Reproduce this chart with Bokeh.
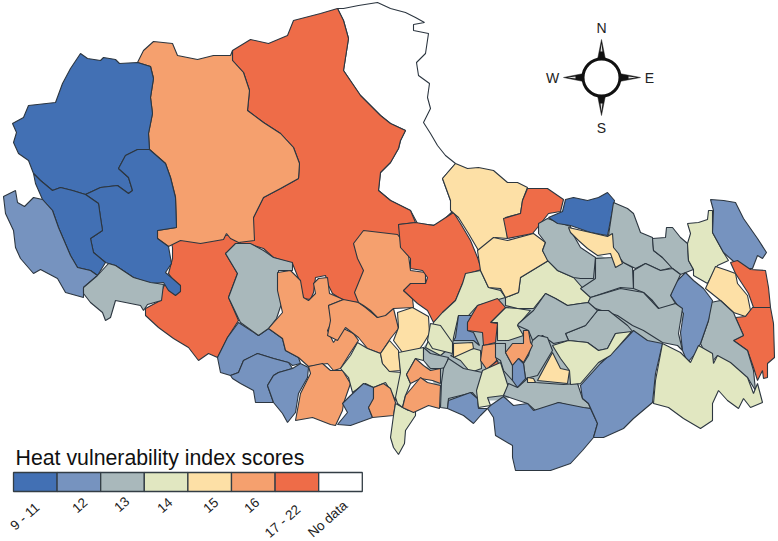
from bokeh.plotting import figure
from bokeh.models import Range1d
from bokeh.core.properties import value
from bokeh.embed import file_html
from bokeh.resources import INLINE

legend_labels = ["9 - 11", "12", "13", "14", "15", "16", "17 - 22", "No data"]
class_colors = ["#4270b4", "#7693bf", "#a9b8bb", "#e1e7c1", "#fde0a6", "#f5a06e", "#ee6c48", "#ffffff"]
NO, C1, C2, C3, C4, C5, C6, C7 = 7, 0, 1, 2, 3, 4, 5, 6

r_nodata = [(337,8),(343,8),(358,5),(377,2),(390,8),(405,12),(415,17),(424,22),(413,24),(413,30),(428,33),(425,53),(416,62),(418,75),(429,83),(427,97),(430,108),(423,122),(430,133),(437,145),(445,155),(455,163),(442,178),(450,200),(452,211),(437,225),(417,223),(410,210),(390,200),(378,190),(380,172),(390,162),(398,148),(400,140),(405,130),(390,123),(380,115),(360,95),(343,70),(348,38),(343,20)]
r_north_red = [(232,50),(250,39),(268,43),(287,35),(293,20),(320,13),(337,8),(343,20),(348,38),(343,70),(360,95),(380,115),(390,123),(405,130),(400,140),(398,148),(390,162),(380,172),(378,190),(390,200),(410,210),(415,222),(398,224),(405,260),(400,290),(358,302),(343,300),(332,293),(328,285),(325,275),(315,277),(313,292),(310,299),(303,298),(298,278),(292,263),(273,257),(263,248),(250,244),(238,243),(253,217),(263,197),(280,188),(298,178),(299,163),(293,147),(280,133),(263,122),(247,110),(249,90),(243,72),(232,60)]
r_north_orange = [(137,62),(143,50),(153,41),(172,43),(177,55),(197,59),(213,55),(230,55),(232,50),(232,60),(243,72),(249,90),(247,110),(263,122),(280,133),(293,147),(299,163),(298,178),(280,188),(263,197),(253,217),(254,240),(238,242),(230,238),(226,233),(223,239),(200,243),(180,240),(168,246),(157,238),(157,230),(176,227),(175,197),(170,177),(165,163),(149,149),(148,133),(152,113),(150,97),(153,78),(150,66)]
r_nw_blue = [(80,53),(87,58),(100,60),(103,57),(115,59),(119,63),(137,62),(150,66),(153,78),(150,97),(152,113),(148,133),(149,149),(137,149),(125,155),(118,168),(128,177),(132,190),(128,193),(117,185),(100,187),(85,194),(72,190),(60,187),(52,190),(40,180),(33,173),(28,160),(18,153),(13,142),(16,132),(12,123),(23,117),(28,105),(55,102),(62,83),(70,68)]
r_sw_red = [(170,238),(240,234),(240,243),(225,253),(237,273),(228,297),(238,320),(227,337),(217,357),(208,353),(198,360),(188,347),(173,338),(158,327),(145,315),(145,308),(160,300),(160,292),(165,283),(173,293),(180,290),(168,273),(172,258),(172,247)]
r_w_blue_east = [(149,149),(165,163),(170,177),(175,197),(176,227),(157,230),(157,238),(168,246),(171,263),(165,272),(172,278),(180,285),(180,291),(175,295),(168,290),(163,282),(150,283),(133,277),(115,265),(108,263),(105,262),(93,252),(90,238),(102,230),(100,217),(98,203),(85,194),(100,187),(117,185),(128,193),(132,190),(128,177),(118,168),(125,155),(137,149)]
r_w_blue_strip = [(33,173),(40,180),(52,190),(60,187),(72,190),(85,194),(98,203),(100,217),(102,230),(90,238),(93,252),(105,262),(97,275),(90,270),(77,267),(70,255),(58,227),(52,210),(42,199),(35,183)]
r_w_steel = [(15,190),(3,196),(5,213),(13,230),(15,247),(20,258),(33,273),(40,269),(57,278),(65,292),(83,297),(83,287),(97,275),(90,270),(77,267),(70,255),(58,227),(52,210),(42,199),(33,197),(24,206),(17,202)]
r_w_grey = [(83,293),(83,287),(97,275),(108,263),(115,265),(133,277),(150,282),(157,283),(163,284),(161,300),(147,304),(143,310),(140,305),(115,300),(110,317),(105,320),(102,312),(90,302)]
r_c_grey = [(225,253),(235,243),(250,243),(263,250),(273,257),(292,262),(292,270),(278,270),(278,287),(281,303),(276,318),(268,328),(258,335),(240,322),(238,318),(228,297),(237,273)]
r_c_orange_a = [(277,272),(290,270),(300,280),(303,297),(308,300),(315,293),(313,283),(318,278),(327,277),(329,293),(343,299),(328,305),(332,320),(327,330),(333,342),(343,328),(353,333),(358,340),(350,352),(340,368),(333,370),(327,363),(308,366),(298,357),(285,350),(282,338),(268,328),(282,312),(277,290)]
r_c_orange_b = [(328,305),(343,299),(358,302),(365,307),(377,317),(393,308),(398,328),(390,338),(380,353),(367,348),(358,337),(345,327),(337,340),(327,335),(330,320)]
r_c_orange_c = [(353,243),(363,230),(397,234),(407,247),(410,270),(425,272),(425,283),(403,290),(412,298),(413,307),(393,308),(385,315),(377,317),(370,310),(363,305),(358,302),(354,292),(363,270),(357,258)]
r_c_red = [(398,224),(415,222),(433,225),(453,212),(460,223),(470,240),(477,257),(481,269),(468,273),(462,283),(455,300),(442,312),(433,322),(427,310),(417,303),(403,290),(410,283),(425,283),(427,277),(422,270),(410,268),(410,258),(400,247)]
r_s_blue_a = [(217,357),(227,337),(238,322),(258,335),(268,328),(282,338),(285,350),(298,357),(300,363),(292,365),(288,362),(273,358),(257,353),(243,360),(238,372),(230,375),(220,372)]
r_s_blue_b = [(230,375),(238,372),(243,360),(257,353),(273,358),(288,362),(292,368),(278,372),(273,375),(267,385),(273,402),(255,402),(253,390),(240,383),(232,378)]
r_s_blue_c = [(267,385),(273,375),(278,372),(292,368),(300,363),(308,367),(307,377),(298,393),(295,412),(287,422),(282,413),(273,402)]
r_s_orange = [(308,366),(322,363),(330,370),(342,370),(350,383),(343,403),(342,410),(335,425),(330,424),(312,417),(295,420),(300,393),(310,373)]
r_s_green = [(357,342),(367,348),(380,353),(382,363),(389,371),(401,372),(395,400),(390,390),(385,382),(373,387),(365,383),(352,392),(348,377),(340,368),(350,355)]
r_c_yellow_a = [(397,312),(412,307),(428,316),(429,333),(423,343),(418,350),(402,352),(393,340),(398,327)]
r_c_yellow_b = [(389,340),(398,350),(400,370),(389,371),(382,363),(380,353)]
r_s_blue_d = [(350,395),(363,383),(373,387),(373,400),(368,407),(372,417),(350,425),(337,424),(347,412),(342,403)]
r_s_orange_b = [(383,383),(390,388),(395,402),(393,415),(372,417),(368,407),(373,398),(373,387)]
r_s_green_long = [(395,403),(408,410),(415,408),(415,415),(405,430),(404,443),(398,454),(393,447),(390,437),(393,415)]
r_s_green_strip = [(400,372),(398,352),(423,347),(423,360),(415,358),(410,367),(406,374),(410,383),(405,395),(402,407),(397,403),(395,397)]
r_s_orange_c = [(406,374),(415,358),(423,365),(430,370),(440,368),(440,383),(432,380),(420,378),(410,383)]
r_s_orange_d = [(402,407),(405,395),(420,377),(427,382),(440,385),(439,408),(428,405),(413,412)]
r_c_fill = [(470,290),(600,255),(700,300),(660,345),(580,385),(495,400),(440,400),(420,350)]
r_c_green_big = [(433,322),(442,312),(455,300),(462,283),(465,273),(480,270),(488,287),(500,290),(505,297),(477,305),(468,315),(458,315),(453,337),(452,345),(440,355),(425,347),(430,335)]
r_c_green_b = [(430,323),(440,325),(452,342),(452,353),(432,348),(427,340)]
r_c_blue_a = [(455,337),(458,315),(473,315),(467,322),(467,330),(473,332),(479,345),(473,340),(453,340)]
r_c_green_c = [(450,355),(473,348),(480,350),(481,368),(470,372),(460,360)]
r_c_yellow_c = [(453,343),(472,342),(473,348),(453,357)]
r_s_grey_a = [(423,347),(430,353),(448,357),(445,367),(440,368),(430,368),(423,360)]
r_s_grey_b = [(448,358),(463,368),(482,372),(483,385),(477,398),(472,392),(448,398),(447,408),(440,407),(441,382),(443,368)]
r_s_blue_e = [(448,400),(470,392),(477,398),(478,408),(487,408),(480,415),(473,423),(463,415),(447,408)]
r_c_green_e = [(505,297),(518,292),(520,277),(548,260),(557,270),(573,277),(580,285),(590,297),(588,302),(580,303),(567,305),(555,298),(545,293),(533,308),(517,308),(505,305)]
r_c_green_d = [(505,307),(517,308),(530,310),(517,325),(523,335),(508,340),(497,340),(497,322),(490,322),(497,315)]
r_c_red_b = [(467,322),(477,305),(497,298),(505,307),(497,315),(490,322),(497,323),(495,342),(483,345),(482,332),(467,330)]
r_c_orange_d = [(482,345),(495,343),(496,360),(487,370),(480,360)]
r_c_grey_c = [(495,343),(505,343),(505,352),(512,365),(512,380),(503,370),(500,360),(495,357)]
r_c_red_c = [(487,368),(497,360),(501,375),(497,377)]
r_n_yellow = [(455,163),(467,168),(478,167),(493,170),(507,182),(517,182),(527,187),(522,200),(520,213),(505,217),(507,238),(495,237),(478,250),(468,233),(458,217),(450,210),(450,200),(442,178)]
r_n_red = [(527,188),(547,188),(563,199),(560,211),(548,213),(537,227),(532,233),(507,238),(503,218),(520,213),(522,200)]
r_n_yellow_b = [(477,250),(493,237),(507,240),(533,233),(545,242),(542,250),(548,260),(520,277),(518,292),(505,297),(500,288),(488,287),(480,270)]
r_n_grey_a = [(538,223),(547,218),(570,226),(572,233),(580,247),(595,257),(593,278),(580,278),(573,277),(557,270),(547,260),(542,250),(545,242),(538,233)]
r_e_grey_b = [(613,250),(623,262),(632,267),(633,288),(620,287),(590,297),(580,288),(595,278),(595,258),(612,257)]
r_n_blue = [(565,199),(573,197),(587,200),(598,197),(607,192),(614,200),(610,220),(607,235),(590,232),(570,225),(557,223),(548,217),(562,211)]
r_e_grey_c = [(613,202),(627,208),(633,213),(640,232),(652,237),(653,250),(662,257),(672,267),(660,270),(645,263),(635,268),(623,262),(613,250),(608,235)]
r_e_grey_d = [(652,238),(665,237),(666,227),(672,227),(680,237),(687,243),(688,260),(693,269),(680,274),(672,268),(662,257),(653,250)]
r_n_yellow_c = [(568,227),(590,232),(607,236),(612,233),(613,247),(618,253),(622,263),(615,267),(610,253),(597,255),(587,248),(578,240),(570,232)]
r_e_green = [(687,223),(698,222),(707,219),(708,210),(712,210),(712,232),(723,252),(728,260),(717,265),(707,283),(693,275),(693,269),(688,260),(687,243),(690,233)]
r_e_blue = [(710,199),(723,200),(735,202),(743,218),(757,238),(766,252),(762,258),(757,255),(752,268),(740,268),(732,260),(723,252),(712,232),(713,210)]
r_e_red_a = [(730,262),(737,260),(750,269),(765,270),(768,287),(770,307),(753,307),(748,293),(735,273)]
r_e_yellow = [(715,266),(727,270),(735,273),(737,283),(747,295),(750,310),(745,316),(733,312),(720,300),(705,288)]
r_e_red_b = [(752,307),(770,307),(773,323),(774,357),(767,363),(767,377),(763,378),(762,370),(757,380),(753,367),(747,350),(733,340),(743,335),(735,317),(745,316)]
r_e_grey_e = [(710,302),(720,300),(733,312),(735,317),(743,335),(733,340),(747,350),(753,370),(755,390),(747,377),(737,373),(723,365),(717,355),(710,363),(700,343),(708,320)]
r_e_blue_b = [(685,272),(693,280),(703,288),(712,300),(708,320),(700,343),(695,353),(687,362),(682,350),(680,332),(683,313),(670,295),(675,282)]
r_e_grey_f = [(633,270),(645,263),(660,270),(672,268),(680,274),(670,295),(675,303),(660,310),(652,300),(643,292),(633,288)]
r_e_grey_g = [(590,297),(620,288),(643,292),(658,308),(675,303),(682,308),(678,333),(682,350),(677,345),(662,342),(643,330),(632,325),(617,315),(595,308),(587,303)]
r_e_grey_h = [(565,333),(585,325),(597,310),(608,310),(627,325),(633,332),(615,333),(607,348),(598,350),(587,342),(568,340)]
r_c_grey_d = [(518,323),(533,310),(545,293),(555,298),(567,305),(580,303),(588,302),(597,310),(585,325),(565,333),(568,340),(553,343),(542,335),(533,342),(528,330),(517,325)]
r_c_grey_e = [(547,337),(552,350),(537,375),(525,378),(523,363),(528,355),(532,340),(538,335)]
r_c_orange_e = [(505,352),(512,343),(523,343),(523,330),(528,330),(530,342),(532,345),(528,353),(523,362),(518,358),(512,365)]
r_c_blue_b = [(512,365),(518,358),(523,363),(525,378),(517,387),(512,380)]
r_s_green_b = [(482,370),(500,362),(508,387),(503,395),(487,397),(490,405),(478,407),(476,390)]
r_s_grey_band = [(508,383),(517,387),(528,377),(535,382),(563,384),(577,383),(582,398),(588,403),(590,408),(577,407),(558,402),(537,412),(527,403),(503,395)]
r_se_blue_a = [(487,408),(490,405),(503,396),(513,405),(527,403),(533,410),(558,402),(583,407),(590,408),(597,423),(593,437),(582,450),(570,463),(550,470),(515,470),(512,457),(512,445),(495,435),(493,417)]
r_se_blue_b = [(580,385),(600,363),(617,347),(633,330),(647,340),(662,343),(655,373),(652,402),(633,418),(623,428),(603,437),(593,437),(597,423),(588,403),(582,398)]
r_se_green = [(552,345),(568,340),(587,342),(598,350),(607,348),(615,333),(631,331),(610,355),(598,362),(580,383),(570,384),(569,370),(560,358)]
r_se_yellow = [(552,352),(560,368),(569,370),(567,383),(537,380)]
r_se_yellow_b = [(527,377),(533,378),(535,382),(527,382)]
r_e_green_big = [(662,343),(680,352),(690,362),(698,345),(712,353),(713,363),(717,355),(730,362),(747,377),(753,393),(757,383),(762,402),(750,407),(743,398),(738,408),(727,400),(718,390),(712,403),(712,420),(700,428),(683,418),(668,407),(653,403),(655,380)]

regions = [
    (r_nodata, NO), (r_north_red, C7), (r_sw_red, C7), (r_north_orange, C6), (r_nw_blue, C1),
    (r_w_blue_east, C1), (r_w_blue_strip, C1), (r_w_steel, C2), (r_w_grey, C3), (r_s_blue_a, C2), (r_s_blue_b, C2),
    (r_s_blue_c, C2), (r_c_grey, C3),
    (r_c_orange_a, C6), (r_s_orange, C6),
    (r_c_orange_b, C6), (r_c_orange_c, C6), (r_c_red, C7), (r_s_green, C4), (r_c_yellow_a, C5),
    (r_c_yellow_b, C5), (r_s_blue_d, C2), (r_s_orange_b, C6), (r_s_green_long, C4), (r_s_green_strip, C4),
    (r_s_orange_c, C6), (r_s_orange_d, C6), (r_c_green_big, C4), (r_c_green_b, C4), (r_c_blue_a, C2),
    (r_c_green_c, C4), (r_c_yellow_c, C5), (r_s_grey_a, C3), (r_s_grey_b, C3), (r_s_blue_e, C2),
    (r_c_green_e, C4), (r_c_green_d, C4), (r_c_red_b, C7), (r_c_orange_d, C6), (r_c_grey_c, C3), (r_c_red_c, C7),
    (r_n_yellow, C5), (r_n_red, C7), (r_n_yellow_b, C5), (r_n_grey_a, C3), (r_e_grey_b, C3),
    (r_n_blue, C1), (r_e_grey_c, C3), (r_e_grey_d, C3), (r_n_yellow_c, C5), (r_e_green, C4),
    (r_e_blue, C2), (r_e_red_a, C7), (r_e_yellow, C5), (r_e_red_b, C7), (r_e_grey_e, C3),
    (r_e_blue_b, C2), (r_e_grey_f, C3), (r_e_grey_g, C3), (r_e_grey_h, C3), (r_c_grey_d, C3),
    (r_c_grey_e, C3), (r_c_orange_e, C6), (r_c_blue_b, C2), (r_s_green_b, C4), (r_s_grey_band, C3),
    (r_se_blue_a, C2), (r_se_blue_b, C2), (r_se_green, C4), (r_se_yellow, C5), (r_se_yellow_b, C5),
    (r_e_green_big, C4),
]

title_text = "Heat vulnerability index scores"
compass_letters = ["N", "W", "E", "S"]
compass_x = [601, 552, 649, 601]
compass_y = [27, 77, 77, 127]
compass_kites = [
    [(601, 39), (597, 59), (605, 59)], [(601, 115), (597, 95), (605, 95)],
    [(563, 77), (583, 73), (583, 81)], [(640, 77), (619, 73), (619, 81)],
]
compass_slivers = [
    [(601, 43), (600, 51), (602, 51)], [(601, 111), (600, 103), (602, 103)],
    [(567, 77), (575, 76), (575, 78)], [(636, 77), (628, 76), (628, 78)],
]

p = figure(width=778, height=541, output_backend="svg", toolbar_location=None,
           x_range=Range1d(0, 778), y_range=Range1d(541, 0), min_border=0)
p.axis.visible = False
p.grid.visible = False
p.outline_line_color = None
p.background_fill_color = "white"

p.patch([v[0] for v in r_c_fill], [v[1] for v in r_c_fill], fill_color=class_colors[C3], line_color=None)
p.patches([[v[0] for v in r] for r, _ in regions], [[v[1] for v in r] for r, _ in regions],
          fill_color=[class_colors[c] for _, c in regions], line_color="#2c3640", line_width=1.1)

# legend
x0, w, top, bottom = 13.0, 43.6, 472, 491
lx = [x0 + i * w for i in range(len(legend_labels))]
p.quad(left=lx, right=[x + w for x in lx], top=[top] * 8, bottom=[bottom] * 8,
       fill_color=class_colors, line_color="#333d45", line_width=1.3)
p.text(x=[15], y=[457], text=[title_text], text_font=value("Liberation Sans"), text_font_size="21.3px",
       text_color="#111111", text_baseline="alphabetic", text_align="left")
label_x = [37, 85, 127, 170, 216, 257, 298, 345]
label_y = [505, 500, 499, 500, 500, 500, 507, 503]
p.text(x=label_x, y=label_y, text=legend_labels, angle=0.72, text_font=value("Liberation Sans"),
       text_font_size="13.5px", text_color="#222222", text_align="right", text_baseline="middle")

# compass
p.patches([[v[0] for v in k] for k in compass_kites], [[v[1] for v in k] for k in compass_kites],
          fill_color="#111111", line_color="#222222", line_width=0.5)
p.patches([[v[0] for v in k] for k in compass_slivers], [[v[1] for v in k] for k in compass_slivers],
          fill_color="#dddddd", line_color=None)
p.circle(x=[601], y=[77], radius=18.5, fill_color="white", line_color="#111111", line_width=3)
p.text(x=compass_x, y=compass_y, text=compass_letters, text_font=value("Liberation Sans"), text_font_size="14px",
       text_color="#222222", text_align="center", text_baseline="middle")

open("out.html", "w").write(file_html(p, INLINE))
